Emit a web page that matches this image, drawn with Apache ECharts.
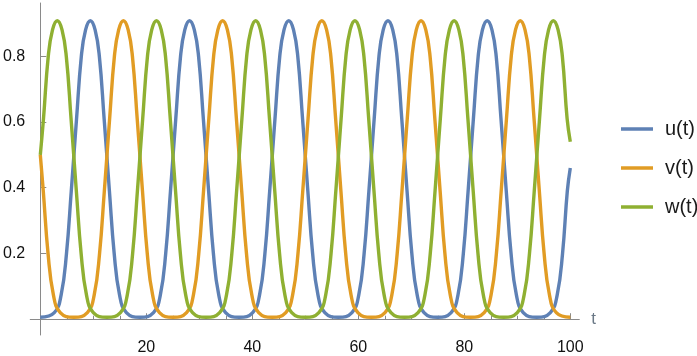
<!DOCTYPE html>
<html>
<head>
<meta charset="utf-8">
<script src="https://cdn.jsdelivr.net/npm/echarts@6/dist/echarts.min.js"></script>
<style>
  html, body { margin: 0; padding: 0; background: #fff; }
  #chart { width: 697px; height: 356px; }
</style>
</head>
<body>
<div id="chart"></div>
<script>
// values, [t, value]
const uData = [
  [0,0.006],
  [2.64,0.02],[3.94,0.075],[4.94,0.2],[5.84,0.39],[6.34,0.5],[6.84,0.61],[7.74,0.8],[8.54,0.88],[9.44,0.908],[10.34,0.88],[11.14,0.8],[12.04,0.61],[12.54,0.5],[13.04,0.39],[13.94,0.2],[14.94,0.075],[16.24,0.02],[18.8,0.006],
  [21.36,0.02],[22.66,0.075],[23.66,0.2],[24.56,0.39],[25.06,0.5],[25.56,0.61],[26.46,0.8],[27.26,0.88],[28.16,0.908],[29.06,0.88],[29.86,0.8],[30.76,0.61],[31.26,0.5],[31.76,0.39],[32.66,0.2],[33.66,0.075],[34.96,0.02],[37.52,0.006],
  [40.08,0.02],[41.38,0.075],[42.38,0.2],[43.28,0.39],[43.78,0.5],[44.28,0.61],[45.18,0.8],[45.98,0.88],[46.88,0.908],[47.78,0.88],[48.58,0.8],[49.48,0.61],[49.98,0.5],[50.48,0.39],[51.38,0.2],[52.38,0.075],[53.68,0.02],[56.24,0.006],
  [58.8,0.02],[60.1,0.075],[61.1,0.2],[62.0,0.39],[62.5,0.5],[63.0,0.61],[63.9,0.8],[64.7,0.88],[65.6,0.908],[66.5,0.88],[67.3,0.8],[68.2,0.61],[68.7,0.5],[69.2,0.39],[70.1,0.2],[71.1,0.075],[72.4,0.02],[74.96,0.006],
  [77.52,0.02],[78.82,0.075],[79.82,0.2],[80.72,0.39],[81.22,0.5],[81.72,0.61],[82.62,0.8],[83.42,0.88],[84.32,0.908],[85.22,0.88],[86.02,0.8],[86.92,0.61],[87.42,0.5],[87.92,0.39],[88.82,0.2],[89.82,0.075],[91.12,0.02],[93.68,0.006],
  [96.24,0.02],[97.54,0.075],[98.54,0.2],[99.44,0.39],[100,0.46]
];
const vData = [
  [0,0.5],[0.56,0.39],[1.46,0.2],[2.46,0.075],[3.76,0.02],[6.32,0.006],
  [8.88,0.02],[10.18,0.075],[11.18,0.2],[12.08,0.39],[12.58,0.5],[13.08,0.61],[13.98,0.8],[14.78,0.88],[15.68,0.908],[16.58,0.88],[17.38,0.8],[18.28,0.61],[18.78,0.5],[19.28,0.39],[20.18,0.2],[21.18,0.075],[22.48,0.02],[25.04,0.006],
  [27.6,0.02],[28.9,0.075],[29.9,0.2],[30.8,0.39],[31.3,0.5],[31.8,0.61],[32.7,0.8],[33.5,0.88],[34.4,0.908],[35.3,0.88],[36.1,0.8],[37.0,0.61],[37.5,0.5],[38.0,0.39],[38.9,0.2],[39.9,0.075],[41.2,0.02],[43.76,0.006],
  [46.32,0.02],[47.62,0.075],[48.62,0.2],[49.52,0.39],[50.02,0.5],[50.52,0.61],[51.42,0.8],[52.22,0.88],[53.12,0.908],[54.02,0.88],[54.82,0.8],[55.72,0.61],[56.22,0.5],[56.72,0.39],[57.62,0.2],[58.62,0.075],[59.92,0.02],[62.48,0.006],
  [65.04,0.02],[66.34,0.075],[67.34,0.2],[68.24,0.39],[68.74,0.5],[69.24,0.61],[70.14,0.8],[70.94,0.88],[71.84,0.908],[72.74,0.88],[73.54,0.8],[74.44,0.61],[74.94,0.5],[75.44,0.39],[76.34,0.2],[77.34,0.075],[78.64,0.02],[81.2,0.006],
  [83.76,0.02],[85.06,0.075],[86.06,0.2],[86.96,0.39],[87.46,0.5],[87.96,0.61],[88.86,0.8],[89.66,0.88],[90.56,0.908],[91.46,0.88],[92.26,0.8],[93.16,0.61],[93.66,0.5],[94.16,0.39],[95.06,0.2],[96.06,0.075],[97.36,0.02],[100,0.006]
];
const wData = [
  [0,0.5],[0.6,0.61],[1.5,0.8],[2.3,0.88],[3.2,0.908],[4.1,0.88],[4.9,0.8],[5.8,0.61],[6.3,0.5],[6.8,0.39],[7.7,0.2],[8.7,0.075],[10.0,0.02],[12.56,0.006],
  [15.12,0.02],[16.42,0.075],[17.42,0.2],[18.32,0.39],[18.82,0.5],[19.32,0.61],[20.22,0.8],[21.02,0.88],[21.92,0.908],[22.82,0.88],[23.62,0.8],[24.52,0.61],[25.02,0.5],[25.52,0.39],[26.42,0.2],[27.42,0.075],[28.72,0.02],[31.28,0.006],
  [33.84,0.02],[35.14,0.075],[36.14,0.2],[37.04,0.39],[37.54,0.5],[38.04,0.61],[38.94,0.8],[39.74,0.88],[40.64,0.908],[41.54,0.88],[42.34,0.8],[43.24,0.61],[43.74,0.5],[44.24,0.39],[45.14,0.2],[46.14,0.075],[47.44,0.02],[50.0,0.006],
  [52.56,0.02],[53.86,0.075],[54.86,0.2],[55.76,0.39],[56.26,0.5],[56.76,0.61],[57.66,0.8],[58.46,0.88],[59.36,0.908],[60.26,0.88],[61.06,0.8],[61.96,0.61],[62.46,0.5],[62.96,0.39],[63.86,0.2],[64.86,0.075],[66.16,0.02],[68.72,0.006],
  [71.28,0.02],[72.58,0.075],[73.58,0.2],[74.48,0.39],[74.98,0.5],[75.48,0.61],[76.38,0.8],[77.18,0.88],[78.08,0.908],[78.98,0.88],[79.78,0.8],[80.68,0.61],[81.18,0.5],[81.68,0.39],[82.58,0.2],[83.58,0.075],[84.88,0.02],[87.44,0.006],
  [90.0,0.02],[91.3,0.075],[92.3,0.2],[93.2,0.39],[93.7,0.5],[94.2,0.61],[95.1,0.8],[95.9,0.88],[96.8,0.908],[97.7,0.88],[98.5,0.8],[99.4,0.61],[100,0.54]
];

const seriesNames = ['u(t)', 'v(t)', 'w(t)'];
const xMajorTicks = [20, 40, 60, 80, 100];
const xMinorTicks = [5, 10, 15, 25, 30, 35, 45, 50, 55, 65, 70, 75, 85, 90, 95];
const yTicks = [0.2, 0.4, 0.6, 0.8];

const colors = ['#5E81B5', '#E19C24', '#8FB032'];
const font = '"Liberation Sans", Arial, sans-serif';
const axisColor = '#8a8a8a';

const chart = echarts.init(document.getElementById('chart'));

const mkSeries = (name, data, i) => ({
  name: name,
  type: 'line',
  data: data,
  xAxisIndex: 0,
  yAxisIndex: 0,
  showSymbol: false,
  symbol: 'none',
  smooth: 0.45,
  lineStyle: { width: 3.4, color: colors[i] },
  itemStyle: { color: colors[i] },
  emphasis: { disabled: true }
});

chart.setOption({
  animation: false,
  color: colors,
  grid: { left: 25, right: 117.7, top: 3, bottom: 11, containLabel: false },
  legend: {
    data: seriesNames,
    orient: 'vertical',
    left: 616,
    top: 114,
    icon: 'rect',
    itemWidth: 32,
    itemHeight: 3.5,
    itemGap: 19,
    textStyle: { fontSize: 20, fontFamily: font, color: '#1a1a1a', lineHeight: 20, padding: [0, 0, 0, 7] }
  },
  xAxis: [{
    type: 'value',
    min: -1.9,
    max: 101.7,
    position: 'bottom',
    name: 't',
    nameLocation: 'end',
    nameGap: 12,
    nameTextStyle: { color: '#6a7886', fontSize: 17, fontFamily: font },
    axisLine: { onZero: true, lineStyle: { color: axisColor, width: 1 } },
    axisTick: { inside: true, length: 6, customValues: xMajorTicks, lineStyle: { color: axisColor } },
    axisLabel: { customValues: xMajorTicks, fontSize: 16, fontFamily: font, color: '#111', margin: 5 },
    splitLine: { show: false }
  }, {
    type: 'value',
    min: -1.9,
    max: 101.7,
    position: 'bottom',
    axisLine: { show: false, onZero: true, onZeroAxisIndex: 0 },
    axisTick: { inside: true, length: 3.5, customValues: xMinorTicks, lineStyle: { color: axisColor } },
    axisLabel: { show: false },
    splitLine: { show: false }
  }],
  yAxis: [{
    type: 'value',
    min: -0.048,
    max: 0.962,
    position: 'left',
    axisLine: { onZero: true, lineStyle: { color: axisColor, width: 1 } },
    axisTick: { inside: true, length: 6, customValues: yTicks, lineStyle: { color: axisColor } },
    axisLabel: { customValues: yTicks, fontSize: 16, fontFamily: font, color: '#111', margin: 5 },
    splitLine: { show: false }
  }],
  series: [
    mkSeries(seriesNames[0], uData, 0),
    mkSeries(seriesNames[1], vData, 1),
    mkSeries(seriesNames[2], wData, 2)
  ]
});
</script>
</body>
</html>
